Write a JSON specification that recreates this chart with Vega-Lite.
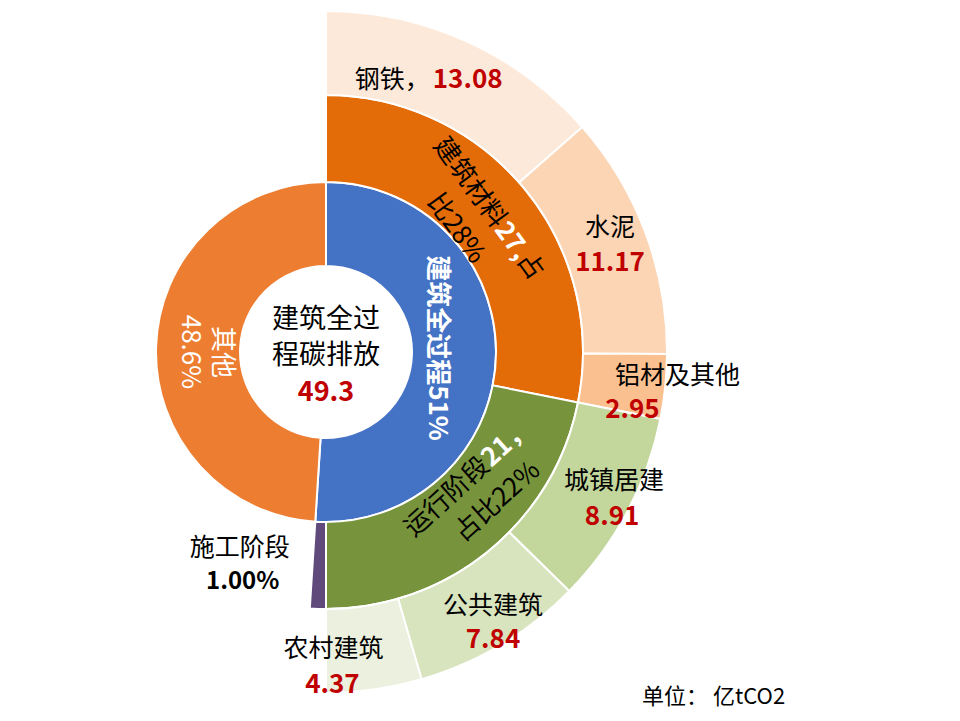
{
  "$schema": "https://vega.github.io/schema/vega-lite/v6.json",
  "width": 652,
  "height": 704,
  "autosize": {"type": "none"},
  "padding": {"left": 0, "top": 0, "right": 308, "bottom": 17},
  "background": "white",
  "config": {"view": {"stroke": null}, "text": {"font": "Noto Sans CJK SC"}},
  "datasets": {
    "r1": [
      {"name": "建筑全过程", "value": 49.29},
      {"name": "其他", "value": 47.35}
    ],
    "r2": [
      {"name": "建筑材料", "value": 27.2},
      {"name": "运行阶段", "value": 21.12},
      {"name": "施工阶段", "value": 0.97}
    ],
    "r3": [
      {"name": "钢铁", "value": 13.08},
      {"name": "水泥", "value": 11.17},
      {"name": "铝材及其他", "value": 2.95},
      {"name": "城镇居建", "value": 8.91},
      {"name": "公共建筑", "value": 7.84},
      {"name": "农村建筑", "value": 4.37}
    ],
    "note": [{"label": "单位： 亿tCO2"}]
  },
  "layer": [
    {
      "data": {"name": "r1"},
      "transform": [{"window": [{"op": "row_number", "as": "k"}]}],
      "mark": {"type": "arc", "radius": 170, "radius2": 86, "stroke": "white", "strokeWidth": 2},
      "encoding": {
        "theta": {"field": "value", "type": "quantitative", "stack": true, "scale": {"domain": [0, 96.64]}},
        "order": {"field": "k"},
        "color": {"field": "name", "type": "nominal", "legend": null,
          "scale": {"domain": ["建筑全过程", "其他", "建筑材料", "运行阶段", "施工阶段", "钢铁", "水泥", "铝材及其他", "城镇居建", "公共建筑", "农村建筑"],
                    "range": ["#4472C4", "#ED7D31", "#E36C09", "#77933C", "#604A7B", "#FDE9D9", "#FCD5B5", "#FAC090", "#C3D69B", "#D7E4BD", "#EBF1DE"]}}
      }
    },
    {
      "data": {"name": "r2"},
      "transform": [{"window": [{"op": "row_number", "as": "k"}]}],
      "mark": {"type": "arc", "radius": 257, "radius2": 170, "stroke": "white", "strokeWidth": 2},
      "encoding": {
        "theta": {"field": "value", "type": "quantitative", "stack": true, "scale": {"domain": [0, 96.64]}},
        "order": {"field": "k"},
        "color": {"field": "name", "type": "nominal", "legend": null}
      }
    },
    {
      "data": {"name": "r3"},
      "transform": [{"window": [{"op": "row_number", "as": "k"}]}],
      "mark": {"type": "arc", "radius": 341, "radius2": 257, "stroke": "white", "strokeWidth": 2},
      "encoding": {
        "theta": {"field": "value", "type": "quantitative", "stack": true, "scale": {"domain": [0, 96.64]}},
        "order": {"field": "k"},
        "color": {"field": "name", "type": "nominal", "legend": null}
      }
    },
    {
      "data": {"name": "r3"},
      "transform": [{"window": [{"op": "row_number", "as": "k"}]}],
      "layer": [
        {"mark": {"type": "text", "radius": 300, "dx": -20, "dy": 1, "align": "right", "baseline": "middle", "fontSize": 25, "fill": "#000000"},
         "encoding": {"text": {"condition": {"test": "datum.name === '钢铁'", "value": "钢铁，"}, "value": ""}}},
        {"mark": {"type": "text", "radius": 300, "dx": -17, "dy": 1, "align": "left", "baseline": "middle", "fontSize": 26, "fontWeight": "bold", "fill": "#C00000"},
         "encoding": {"text": {"field": "value", "format": ".2f", "condition": {"test": "datum.name !== '钢铁'", "value": ""}}}},
        {"mark": {"type": "text", "radius": 300, "dx": 3, "dy": -19, "align": "center", "baseline": "middle", "fontSize": 25, "fill": "#000000"},
         "encoding": {"text": {"field": "name", "condition": {"test": "datum.name !== '水泥'", "value": ""}}}},
        {"mark": {"type": "text", "radius": 300, "dx": 3, "dy": 16, "align": "center", "baseline": "middle", "fontSize": 26, "fontWeight": "bold", "fill": "#C00000"},
         "encoding": {"text": {"field": "value", "format": ".2f", "condition": {"test": "datum.name !== '水泥'", "value": ""}}}},
        {"mark": {"type": "text", "radius": 300, "dx": 53, "dy": -6, "align": "center", "baseline": "middle", "fontSize": 25, "fill": "#000000"},
         "encoding": {"text": {"field": "name", "condition": {"test": "datum.name !== '铝材及其他'", "value": ""}}}},
        {"mark": {"type": "text", "radius": 300, "dx": 8, "dy": 28, "align": "center", "baseline": "middle", "fontSize": 26, "fontWeight": "bold", "fill": "#C00000"},
         "encoding": {"text": {"field": "value", "format": ".2f", "condition": {"test": "datum.name !== '铝材及其他'", "value": ""}}}},
        {"mark": {"type": "text", "radius": 300, "dx": 23, "dy": -11, "align": "center", "baseline": "middle", "fontSize": 25, "fill": "#000000"},
         "encoding": {"text": {"field": "name", "condition": {"test": "datum.name !== '城镇居建'", "value": ""}}}},
        {"mark": {"type": "text", "radius": 300, "dx": 21, "dy": 25, "align": "center", "baseline": "middle", "fontSize": 26, "fontWeight": "bold", "fill": "#C00000"},
         "encoding": {"text": {"field": "value", "format": ".2f", "condition": {"test": "datum.name !== '城镇居建'", "value": ""}}}},
        {"mark": {"type": "text", "radius": 300, "dx": 13, "dy": -3, "align": "center", "baseline": "middle", "fontSize": 25, "fill": "#000000"},
         "encoding": {"text": {"field": "name", "condition": {"test": "datum.name !== '公共建筑'", "value": ""}}}},
        {"mark": {"type": "text", "radius": 300, "dx": 13, "dy": 31, "align": "center", "baseline": "middle", "fontSize": 26, "fontWeight": "bold", "fill": "#C00000"},
         "encoding": {"text": {"field": "value", "format": ".2f", "condition": {"test": "datum.name !== '公共建筑'", "value": ""}}}},
        {"mark": {"type": "text", "radius": 300, "dx": -35, "dy": 0, "align": "center", "baseline": "middle", "fontSize": 25, "fill": "#000000"},
         "encoding": {"text": {"field": "name", "condition": {"test": "datum.name !== '农村建筑'", "value": ""}}}},
        {"mark": {"type": "text", "radius": 300, "dx": -36, "dy": 36, "align": "center", "baseline": "middle", "fontSize": 26, "fontWeight": "bold", "fill": "#C00000"},
         "encoding": {"text": {"field": "value", "format": ".2f", "condition": {"test": "datum.name !== '农村建筑'", "value": ""}}}}
      ],
      "encoding": {
        "theta": {"field": "value", "type": "quantitative", "stack": true, "scale": {"domain": [0, 96.64]}},
        "order": {"field": "k"},
        "detail": {"field": "name"}
      }
    },
    {
      "data": {"name": "r2"},
      "transform": [{"window": [{"op": "row_number", "as": "k"}]}],
      "layer": [
        {"mark": {"type": "text", "radius": 213, "angle": 54, "dx": 12, "dy": -3, "align": "right", "baseline": "middle", "fontSize": 26, "fill": "#000000"},
         "encoding": {"text": {"condition": {"test": "datum.name === '建筑材料'", "value": "建筑材料"}, "value": ""}}},
        {"mark": {"type": "text", "radius": 213, "angle": 54, "dx": 12, "dy": -3, "align": "left", "baseline": "middle", "fontSize": 26, "fontWeight": "bold", "fill": "#FFFFFF"},
         "encoding": {"text": {"condition": {"test": "datum.name === '建筑材料'", "value": "27,"}, "value": ""}}},
        {"mark": {"type": "text", "radius": 213, "angle": 54, "dx": 50, "dy": -3, "align": "left", "baseline": "middle", "fontSize": 26, "fill": "#000000"},
         "encoding": {"text": {"condition": {"test": "datum.name === '建筑材料'", "value": "占"}, "value": ""}}},
        {"mark": {"type": "text", "radius": 213, "angle": 54, "dx": -11, "dy": 35, "align": "center", "baseline": "middle", "fontSize": 26, "fill": "#000000"},
         "encoding": {"text": {"condition": {"test": "datum.name === '建筑材料'", "value": "比28%"}, "value": ""}}},
        {"mark": {"type": "text", "radius": 213, "angle": -42, "dx": 55, "dy": -24, "align": "right", "baseline": "middle", "fontSize": 26, "fill": "#000000"},
         "encoding": {"text": {"condition": {"test": "datum.name === '运行阶段'", "value": "运行阶段"}, "value": ""}}},
        {"mark": {"type": "text", "radius": 213, "angle": -42, "dx": 55, "dy": -24, "align": "left", "baseline": "middle", "fontSize": 26, "fontWeight": "bold", "fill": "#FFFFFF"},
         "encoding": {"text": {"condition": {"test": "datum.name === '运行阶段'", "value": "21，"}, "value": ""}}},
        {"mark": {"type": "text", "radius": 213, "angle": -42, "dx": 37, "dy": 13, "align": "center", "baseline": "middle", "fontSize": 26, "fill": "#000000"},
         "encoding": {"text": {"condition": {"test": "datum.name === '运行阶段'", "value": "占比22%"}, "value": ""}}},
        {"mark": {"type": "text", "radius": 200, "dx": -80, "dy": -4, "align": "center", "baseline": "middle", "fontSize": 25, "fill": "#000000"},
         "encoding": {"text": {"field": "name", "condition": {"test": "datum.name !== '施工阶段'", "value": ""}}}},
        {"mark": {"type": "text", "radius": 200, "dx": -77, "dy": 30, "align": "center", "baseline": "middle", "fontSize": 24, "fontWeight": "bold", "fill": "#000000"},
         "encoding": {"text": {"condition": {"test": "datum.name === '施工阶段'", "value": "1.00%"}, "value": ""}}}
      ],
      "encoding": {
        "theta": {"field": "value", "type": "quantitative", "stack": true, "scale": {"domain": [0, 96.64]}},
        "order": {"field": "k"},
        "detail": {"field": "name"}
      }
    },
    {
      "data": {"name": "r1"},
      "transform": [{"window": [{"op": "row_number", "as": "k"}]}],
      "layer": [
        {"mark": {"type": "text", "radius": 128, "angle": 90, "dx": 4, "dy": -24, "align": "center", "baseline": "middle", "fontSize": 26, "fill": "#FFFFFF"},
         "encoding": {"text": {"field": "name", "condition": {"test": "datum.name !== '其他'", "value": ""}}}},
        {"mark": {"type": "text", "radius": 128, "angle": 90, "dx": 4, "dy": 8, "align": "center", "baseline": "middle", "fontSize": 26, "fill": "#FFFFFF"},
         "encoding": {"text": {"condition": {"test": "datum.name === '其他'", "value": "48.6%"}, "value": ""}}},
        {"mark": {"type": "text", "radius": 128, "angle": 90, "dx": -8, "dy": 17, "align": "center", "baseline": "middle", "fontSize": 26, "fontWeight": "bold", "fill": "#FFFFFF"},
         "encoding": {"text": {"condition": {"test": "datum.name === '建筑全过程'", "value": "建筑全过程51%"}, "value": ""}}}
      ],
      "encoding": {
        "theta": {"field": "value", "type": "quantitative", "stack": true, "scale": {"domain": [0, 96.64]}},
        "order": {"field": "k"},
        "detail": {"field": "name"}
      }
    },
    {
      "data": {"name": "r1"},
      "transform": [{"filter": "datum.name === '建筑全过程'"}],
      "layer": [
        {"mark": {"type": "text", "text": "建筑全过", "dy": -32, "align": "center", "baseline": "middle", "fontSize": 27, "fill": "#000000"}},
        {"mark": {"type": "text", "text": "程碳排放", "dy": 4, "align": "center", "baseline": "middle", "fontSize": 27, "fill": "#000000"}},
        {"mark": {"type": "text", "dy": 41, "align": "center", "baseline": "middle", "fontSize": 27, "fontWeight": "bold", "fill": "#C00000"},
         "encoding": {"text": {"field": "value", "format": ".1f"}}}
      ]
    },
    {
      "data": {"name": "note"},
      "mark": {"type": "text", "dx": 316, "dy": 345, "align": "left", "baseline": "middle", "fontSize": 22, "fill": "#000000"},
      "encoding": {"text": {"field": "label"}}
    }
  ]
}
